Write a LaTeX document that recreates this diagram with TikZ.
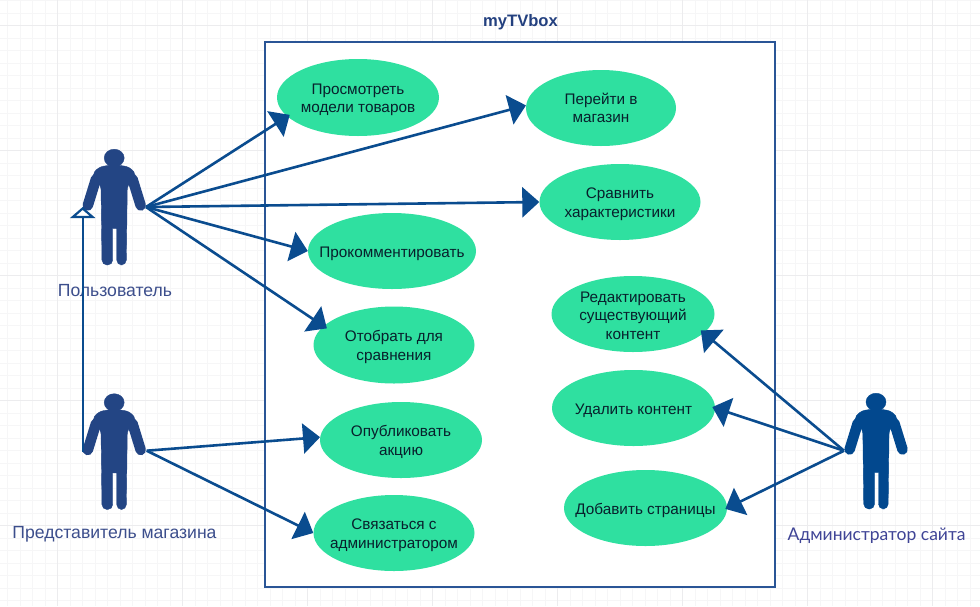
\documentclass[tikz,border=0pt]{standalone}
\usepackage{fontspec}
\setmainfont{Liberation Sans}
\newfontfamily\latofont{Lato}
\usetikzlibrary{shapes.geometric,arrows.meta}
\definecolor{linecol}{HTML}{0A4C8F}
\definecolor{boxcol}{HTML}{2A5596}
\definecolor{titlecol}{HTML}{23407F}
\definecolor{greencol}{HTML}{2FE0A0}
\definecolor{usercol}{HTML}{234584}
\definecolor{admincol}{HTML}{02488E}
\definecolor{labelcol}{HTML}{3C4E8C}
\definecolor{adminlabelcol}{HTML}{3F4496}
\definecolor{casetext}{HTML}{08202C}
\definecolor{minorgrid}{HTML}{F6F6F7}
\definecolor{majorgrid}{HTML}{ECECEE}
\newcommand{\caselow}[1]{\rule{0pt}{#1pt}}
\tikzset{
  x=1pt,y=-1pt,
  usecase/.style={ellipse,fill=greencol,inner sep=-30pt,align=center,text=casetext,font=\fontsize{15.3}{18.6}\selectfont},
  assoc/.style={draw=linecol,line width=2.6pt,-{Triangle[length=17pt,width=30pt,fill=linecol]}},
  general/.style={draw=linecol,line width=2.4pt,-{Triangle[fill=white,length=11pt,width=25pt,line width=2.2pt]}},
  actorlabel/.style={text=labelcol,font=\fontsize{17.6}{20}\selectfont,inner sep=0pt},
  actor/.pic={
    \fill[pic actions] (114.2,158) ellipse [x radius=10,y radius=8.8];
    \fill[pic actions] (114.2,164.5) [rounded corners=5pt] -- (130,167) -- (137,176) -- (127.3,185) -- (126.3,265) -- (116.7,265) [sharp corners] -- (116.7,228.3) -- (112.7,228.3) [rounded corners=5pt] -- (112.7,265) -- (102,265) -- (101,185) -- (91.4,176) -- (98.4,167) -- cycle;
    \draw[pic actions,line width=10.5pt,line cap=round] (132.5,179) -- (140.7,205.5);
    \draw[pic actions,line width=10.5pt,line cap=round] (96,179) -- (87.8,205.5);
  }
}
\begin{document}
\begin{tikzpicture}
\useasboundingbox (0,0) rectangle (980,606);
\fill[white] (0,0) rectangle (980,606);
\foreach \i in {0,...,78} {\draw[minorgrid,line width=0.8pt] ({7.5+12.5*\i},0) -- ({7.5+12.5*\i},606);}
\foreach \i in {0,...,48} {\draw[minorgrid,line width=0.8pt] (0,{0.5+12.5*\i}) -- (980,{0.5+12.5*\i});}
\foreach \i in {0,...,7} {\draw[majorgrid,line width=0.8pt] ({57.5+125*\i},0) -- ({57.5+125*\i},606);}
\foreach \i in {0,...,4} {\draw[majorgrid,line width=0.8pt] (0,{25.5+125*\i}) -- (980,{25.5+125*\i});}

\node[draw=boxcol,line width=2pt,fill=white,minimum width=510pt,minimum height=545pt,inner sep=0pt] (system) at (520,314.5) {};
\node[text=titlecol,font=\bfseries\fontsize{16.6}{19}\selectfont,inner sep=0pt] (title) at (520.5,22) {myTVbox};

\node[usecase,minimum width=162pt,minimum height=77pt] (u1) at (358,97.5) {\caselow{15}Просмотреть\\модели товаров};
\node[usecase,minimum width=150pt,minimum height=76pt] (u2) at (601,108) {Перейти в\\магазин};
\node[usecase,minimum width=161pt,minimum height=76pt] (u3) at (620,202) {\caselow{15}Сравнить\\характеристики};
\node[usecase,minimum width=168pt,minimum height=76pt] (u4) at (392,251) {\caselow{16}Прокомментировать};
\node[usecase,minimum width=161pt,minimum height=77pt] (u5) at (394,345) {\caselow{15}Отобрать для\\сравнения};
\node[usecase,minimum width=162pt,minimum height=76pt] (u6) at (401,440) {\caselow{15}Опубликовать\\акцию};
\node[usecase,minimum width=161pt,minimum height=76pt] (u7) at (394,533) {\caselow{15}Связаться с\\администратором};
\node[usecase,minimum width=163pt,minimum height=76pt] (u8) at (633,314) {\caselow{14}Редактировать\\существующий\\контент};
\node[usecase,minimum width=163pt,minimum height=76pt] (u9) at (633.5,408) {\caselow{16}Удалить контент};
\node[usecase,minimum width=163pt,minimum height=76pt] (u10) at (645.5,508) {\caselow{16}Добавить страницы};

\pic[fill=usercol,draw=usercol] {actor};
\pic[fill=usercol,draw=usercol,shift={(0,244.5)}] {actor};
\pic[fill=admincol,draw=admincol,shift={(761.8,244)}] {actor};

\coordinate (userhand) at (146,207);
\coordinate (rephand) at (146.7,450.7);
\coordinate (adminhand) at (844,450.7);
\coordinate (repleft) at (82.7,452);
\coordinate (userleft) at (82.7,207);

\node[actorlabel] (userlabel) at (115,291) {Пользователь};
\node[actorlabel] (replabel) at (114.5,534) {Представитель магазина};
\node[actorlabel,text=adminlabelcol,font=\latofont\fontsize{17.5}{20}\selectfont] (adminlabel) at (876.5,536) {Администратор сайта};

\draw[assoc,shorten >=-3pt] (userhand) -- (u1.195);
\draw[assoc] (userhand) -- (u2.178);
\draw[assoc] (userhand) -- (u3.180);
\draw[assoc] (userhand) -- (u4.west);
\draw[assoc,shorten >=-4pt] (userhand) -- (u5.165);
\draw[assoc] (rephand) -- (u6.178);
\draw[assoc] (rephand) -- (u7.180);
\draw[assoc,shorten >=-4pt] (adminhand) -- (u8.-15);
\draw[assoc,shorten >=-3pt] (adminhand) -- (u9.0);
\draw[assoc,shorten >=-2pt] (adminhand) -- (u10.0);
\draw[general] (repleft) -- (userleft);
\end{tikzpicture}
\end{document}
